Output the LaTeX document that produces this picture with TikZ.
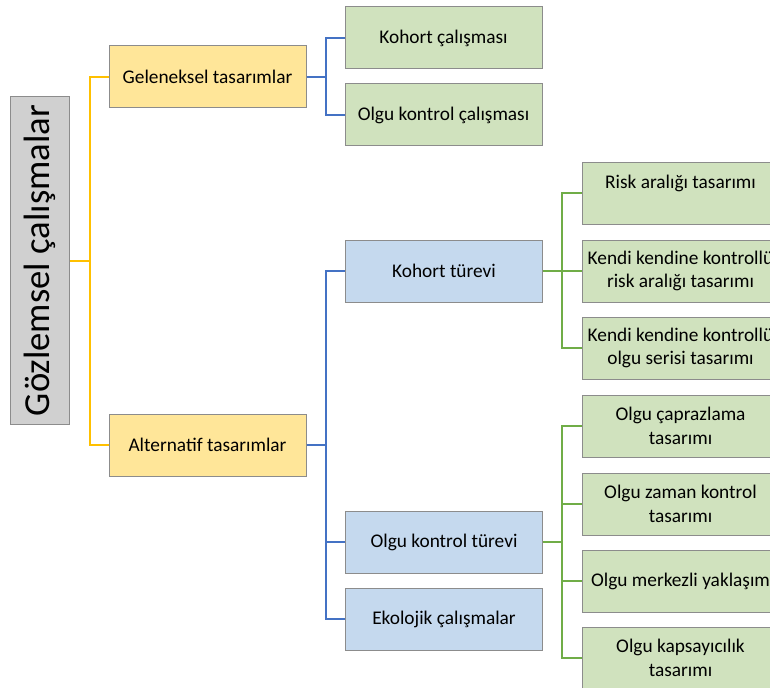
\documentclass[tikz,border=0pt]{standalone}
\usepackage{fontspec}
\setmainfont{Carlito}
\definecolor{kokgri}{HTML}{D0D0D0}
\definecolor{sari}{HTML}{FFE699}
\definecolor{mavi}{HTML}{C5D9EE}
\definecolor{yesil}{HTML}{D0E2BE}
\definecolor{cizgisari}{HTML}{FFC000}
\definecolor{cizgimavi}{HTML}{4472C4}
\definecolor{cizgiyesil}{HTML}{70AD47}
\definecolor{kenar}{HTML}{8C8C8C}

\begin{document}
\begin{tikzpicture}[
    x=0.75pt, y=-0.75pt,
    every node/.style={draw=kenar, line width=0.75pt, align=center, inner sep=2pt,
        font=\fontsize{14.5}{17.5}\selectfont},
    kok/.style={fill=kokgri, rotate=90, minimum width=245.25pt, minimum height=44.25pt,
        font=\fontsize{27.5}{33}\selectfont},
    kutu/.style={minimum width=147.75pt, minimum height=46.5pt},
    duzeyA/.style={kutu, fill=sari},
    duzeyB/.style={kutu, fill=mavi},
    yaprak/.style={kutu, fill=yesil},
    sarihat/.style={draw=cizgisari, line width=1.5pt},
    mavihat/.style={draw=cizgimavi, line width=1.5pt},
    yesilhat/.style={draw=cizgiyesil, line width=1.5pt}
]
\clip (0,0) rectangle (770,688);

% Kok
\node[kok] (kok) at (39.5,260.5) {Gözlemsel çalışmalar};

% Tasarimlar
\node[duzeyA] (gel) at (207.5,77) {Geleneksel tasarımlar};
\node[duzeyA] (alt) at (207.5,445) {Alternatif tasarımlar};

% Geleneksel
\node[yaprak] (koh) at (443.5,38) {Kohort çalışması};
\node[yaprak] (olk) at (443.5,115) {Olgu kontrol çalışması};

% Alternatif
\node[duzeyB] (kt) at (444,271) {Kohort türevi};
\node[duzeyB] (okt) at (444,542) {Olgu kontrol türevi};
\node[duzeyB] (eko) at (444,619) {Ekolojik çalışmalar};

% Kohort turevi
\node[yaprak] (risk) at (680.5,193) {Risk aralığı tasarımı\\~};
\node[yaprak] (kkr) at (680.5,271) {Kendi kendine kontrollü\\risk aralığı tasarımı};
\node[yaprak] (kko) at (680.5,348) {Kendi kendine kontrollü\\olgu serisi tasarımı};

% Olgu kontrol turevi
\node[yaprak] (oc) at (680.5,426) {Olgu çaprazlama\\tasarımı};
\node[yaprak] (oz) at (680.5,504) {Olgu zaman kontrol\\tasarımı};
\node[yaprak] (om) at (680.5,581) {Olgu merkezli yaklaşım};
\node[yaprak] (oka) at (680.5,658) {Olgu kapsayıcılık\\tasarımı};

% Baglantilar
\draw[sarihat] (kok.south) -- ++(20,0) coordinate (k1);
\draw[sarihat] (k1) |- (gel.west);
\draw[sarihat] (k1) |- (alt.west);

\draw[mavihat] (gel.east) -- ++(19,0) coordinate (g1);
\draw[mavihat] (g1) |- (koh.west);
\draw[mavihat] (g1) |- (olk.west);

\draw[mavihat] (alt.east) -- ++(19,0) coordinate (a1);
\draw[mavihat] (a1) |- (kt.west);
\draw[mavihat] (a1) |- (okt.west);
\draw[mavihat] (a1) |- (eko.west);

\draw[yesilhat] (kt.east) -- ++(19,0) coordinate (t1);
\draw[yesilhat] (t1) |- (risk.west);
\draw[yesilhat] (t1) |- (kkr.west);
\draw[yesilhat] (t1) |- (kko.west);

\draw[yesilhat] (okt.east) -- ++(19,0) coordinate (t2);
\draw[yesilhat] (t2) |- (oc.west);
\draw[yesilhat] (t2) |- (oz.west);
\draw[yesilhat] (t2) |- (om.west);
\draw[yesilhat] (t2) |- (oka.west);
\end{tikzpicture}
\end{document}
